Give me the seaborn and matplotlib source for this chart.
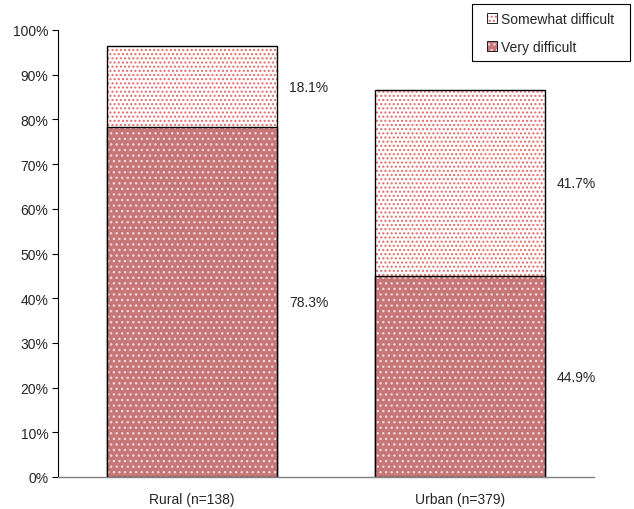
import matplotlib
matplotlib.use("Agg")
import matplotlib.pyplot as plt
import seaborn as sns
import pandas as pd
from matplotlib.colors import to_rgba
from matplotlib.patches import Patch, Rectangle
from matplotlib.transforms import IdentityTransform

categories = ["Rural (n=138)", "Urban (n=379)"]
very_difficult = [78.3, 44.9]
somewhat_difficult = [18.1, 41.7]
series_names = ["Somewhat difficult", "Very difficult"]
yticks = list(range(0, 101, 10))

totals = [a + b for a, b in zip(very_difficult, somewhat_difficult)]
df = pd.DataFrame({"cat": categories, "very": very_difficult,
                   "some": somewhat_difficult, "total": totals})

sns.set_style("white")
plt.rcParams['font.family'] = ['Liberation Sans', 'DejaVu Sans']
plt.rcParams['hatch.linewidth'] = 1.0

fig = plt.figure(figsize=(6.34, 5.10), dpi=100)
ax = fig.add_axes([58/634, 32/510, (594-58)/634, (478-31)/510])

top_face = "#ffffff"
top_hatch = "#e26a6a"
bot_face = "#c67676"
bot_hatch = "#f2d4d4"
top_pat = "...."
bot_pat = "..."
FS = 10

sns.barplot(data=df, x="cat", y="total", color=top_face, width=0.633,
            ax=ax, saturation=1, edgecolor="black", linewidth=1)
n_top = len(ax.patches)
sns.barplot(data=df, x="cat", y="very", color=bot_face, width=0.633,
            ax=ax, saturation=1, edgecolor="black", linewidth=1)

for i, p in enumerate(ax.patches):
    is_top = i < n_top
    p.set_facecolor(top_face if is_top else bot_face)
    p.set_hatch(top_pat if is_top else bot_pat)
    p.set_edgecolor("black")
    p._hatch_color = to_rgba(top_hatch if is_top else bot_hatch)

for i in range(len(categories)):
    xr = i + 0.633 / 2 + 0.045
    ax.text(xr, very_difficult[i] + somewhat_difficult[i] / 2,
            f"{somewhat_difficult[i]:.1f}%", va="center", ha="left", fontsize=FS)
    ax.text(xr, very_difficult[i] / 2,
            f"{very_difficult[i]:.1f}%", va="center", ha="left", fontsize=FS)

ax.set_xlim(-0.5, 1.5)
ax.set_ylim(0, 100)
ax.set_yticks(yticks)
ax.set_yticklabels([f"{t}%" for t in yticks], fontsize=FS)
ax.tick_params(axis="y", left=True, length=4, width=0.8, color="black", pad=3)
ax.tick_params(axis="x", bottom=False, labelsize=FS, pad=7)
ax.set_xlabel("")
ax.set_ylabel("")
for s in ["top", "right"]:
    ax.spines[s].set_visible(False)
ax.spines["left"].set_color("black")
ax.spines["left"].set_linewidth(0.8)
ax.spines["bottom"].set_color("#808080")
ax.spines["bottom"].set_linewidth(1)

h1 = Patch(facecolor=top_face, edgecolor="black", hatch=top_pat, linewidth=0.6)
h2 = Patch(facecolor=bot_face, edgecolor="black", hatch=bot_pat, linewidth=0.6)
h1._hatch_color = to_rgba(top_hatch)
h2._hatch_color = to_rgba(bot_hatch)
dx = 8
leg = fig.legend([h1, h2], series_names, loc="upper right",
                 bbox_to_anchor=((630 - dx)/634, 1 - 5/510), fontsize=FS,
                 frameon=False,
                 handlelength=0.7, handleheight=0.7, handletextpad=0.3,
                 borderpad=0.55, labelspacing=1.0, borderaxespad=0)

fig.canvas.draw()
bb = leg.get_window_extent()
frame = Rectangle((bb.x0 - dx, bb.y0), bb.width + 2 * dx, bb.height,
                  transform=IdentityTransform(), facecolor="white",
                  edgecolor="black", linewidth=0.8, zorder=leg.get_zorder() - 0.1)
fig.add_artist(frame)

fig.savefig("out.png", dpi=100)
